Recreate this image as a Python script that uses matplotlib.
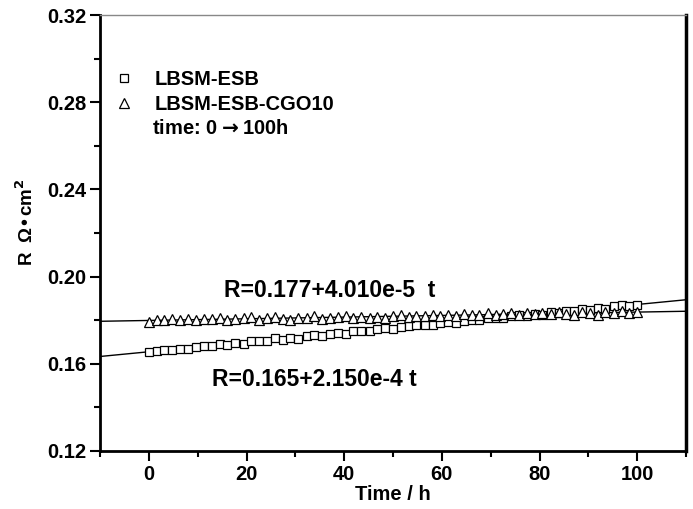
import numpy as np
import matplotlib
matplotlib.use("Agg")
import matplotlib.pyplot as plt
from matplotlib.ticker import MultipleLocator, FormatStrFormatter
from matplotlib.lines import Line2D

plt.rcParams['font.family'] = ['Liberation Sans', 'DejaVu Sans']
plt.rcParams['font.weight'] = 'bold'

time_h = [0.0, 1.6, 3.2, 4.8, 6.4, 8.1, 9.7, 11.3, 12.9, 14.5, 16.1, 17.7, 19.4, 21.0,
          22.6, 24.2, 25.8, 27.4, 29.0, 30.6, 32.3, 33.9, 35.5, 37.1, 38.7, 40.3, 41.9,
          43.5, 45.2, 46.8, 48.4, 50.0, 51.6, 53.2, 54.8, 56.5, 58.1, 59.7, 61.3, 62.9,
          64.5, 66.1, 67.7, 69.4, 71.0, 72.6, 74.2, 75.8, 77.4, 79.0, 80.6, 82.3, 83.9,
          85.5, 87.1, 88.7, 90.3, 91.9, 93.5, 95.2, 96.8, 98.4, 100.0]

r_esb = [0.1656, 0.1659, 0.1665, 0.1662, 0.1670, 0.1670, 0.1676, 0.1681, 0.1680, 0.1690,
         0.1687, 0.1697, 0.1692, 0.1703, 0.1706, 0.1703, 0.1716, 0.1709, 0.1720, 0.1715,
         0.1728, 0.1733, 0.1727, 0.1738, 0.1742, 0.1737, 0.1749, 0.1751, 0.1750, 0.1760,
         0.1763, 0.1758, 0.1770, 0.1774, 0.1776, 0.1780, 0.1779, 0.1787, 0.1790, 0.1788,
         0.1797, 0.1800, 0.1799, 0.1808, 0.1810, 0.1809, 0.1818, 0.1822, 0.1820, 0.1829,
         0.1826, 0.1837, 0.1834, 0.1843, 0.1840, 0.1851, 0.1848, 0.1858, 0.1853, 0.1866,
         0.1869, 0.1863, 0.1870]

r_cgo = [0.1790, 0.1802, 0.1800, 0.1804, 0.1801, 0.1806, 0.1799, 0.1804, 0.1807, 0.1812,
         0.1800, 0.1805, 0.1808, 0.1814, 0.1803, 0.1808, 0.1815, 0.1806, 0.1803, 0.1809,
         0.1812, 0.1817, 0.1806, 0.1811, 0.1814, 0.1820, 0.1810, 0.1815, 0.1811, 0.1816,
         0.1809, 0.1818, 0.1825, 0.1815, 0.1821, 0.1818, 0.1824, 0.1819, 0.1826, 0.1820,
         0.1827, 0.1822, 0.1826, 0.1831, 0.1824, 0.1829, 0.1834, 0.1826, 0.1832, 0.1828,
         0.1834, 0.1830, 0.1836, 0.1829, 0.1825, 0.1836, 0.1831, 0.1826, 0.1838, 0.1833,
         0.1840, 0.1834, 0.1838]

labels = ["LBSM-ESB", "LBSM-ESB-CGO10"]
note = "time: 0$\\rightarrow$100h"
eq_cgo = "R=0.177+4.010e-5  t"
eq_esb = "R=0.165+2.150e-4 t"

fig = plt.figure(figsize=(6.93, 5.09), dpi=100)
ax = fig.add_axes([0.1443, 0.114, 0.8457, 0.8565])

t = np.array(time_h)
ax.plot(t, r_esb, ls='none', marker='s', ms=6, mfc='white', mec='black', mew=0.9, zorder=3)
ax.plot(t, r_cgo, ls='none', marker='^', ms=7.5, mfc='white', mec='black', mew=0.9, zorder=3)

xfit = np.array([-10, 110])
for y in (r_esb, r_cgo):
    k, b = np.polyfit(t, y, 1)
    ax.plot(xfit, k * xfit + b, color='black', lw=1.0, zorder=2)

ax.set_xlim(-10, 110)
ax.set_ylim(0.12, 0.32)
ax.xaxis.set_major_locator(MultipleLocator(20))
ax.xaxis.set_minor_locator(MultipleLocator(10))
ax.yaxis.set_major_locator(MultipleLocator(0.04))
ax.yaxis.set_minor_locator(MultipleLocator(0.02))
ax.yaxis.set_major_formatter(FormatStrFormatter('%.2f'))

ax.tick_params(which='major', direction='out', length=7, width=1.5, labelsize=14.5, pad=3)
ax.tick_params(which='minor', direction='out', length=4, width=1.5)
ax.tick_params(axis='x', which='both', top=False)
ax.tick_params(axis='y', which='both', right=False)
for lab in ax.get_xticklabels() + ax.get_yticklabels():
    lab.set_fontweight('bold')

ax.spines['left'].set_linewidth(2)
ax.spines['bottom'].set_linewidth(2)
ax.spines['right'].set_linewidth(2.5)
ax.spines['top'].set_linewidth(1)
ax.spines['top'].set_color('#888888')

ax.set_xlabel("Time / h", fontsize=14.5, fontweight='bold', labelpad=1)
ax.set_ylabel("R  Ω•cm$^\\mathbf{2}$", fontsize=13.5, fontweight='bold')
ax.yaxis.set_label_coords(-0.107, 0.525)

handles = [Line2D([], [], ls='none', marker='s', ms=5.5, mfc='white', mec='black', mew=0.9),
           Line2D([], [], ls='none', marker='^', ms=6.5, mfc='white', mec='black', mew=0.9)]
ax.legend(handles, labels, loc='upper left', bbox_to_anchor=(0.01, 0.893), frameon=False,
          prop={'size': 14.5, 'weight': 'bold'}, handlelength=1.0, handletextpad=1.0,
          labelspacing=0.3, borderaxespad=0)
ax.text(0.088, 0.740, note, transform=ax.transAxes, fontsize=14.5,
        fontweight='bold', va='center', ha='left')

ax.text(15.4, 0.1936, eq_cgo, fontsize=16.5, fontweight='bold', va='center', ha='left')
ax.text(12.9, 0.1526, eq_esb, fontsize=16.5, fontweight='bold', va='center', ha='left')

fig.savefig("out.png", dpi=100)
